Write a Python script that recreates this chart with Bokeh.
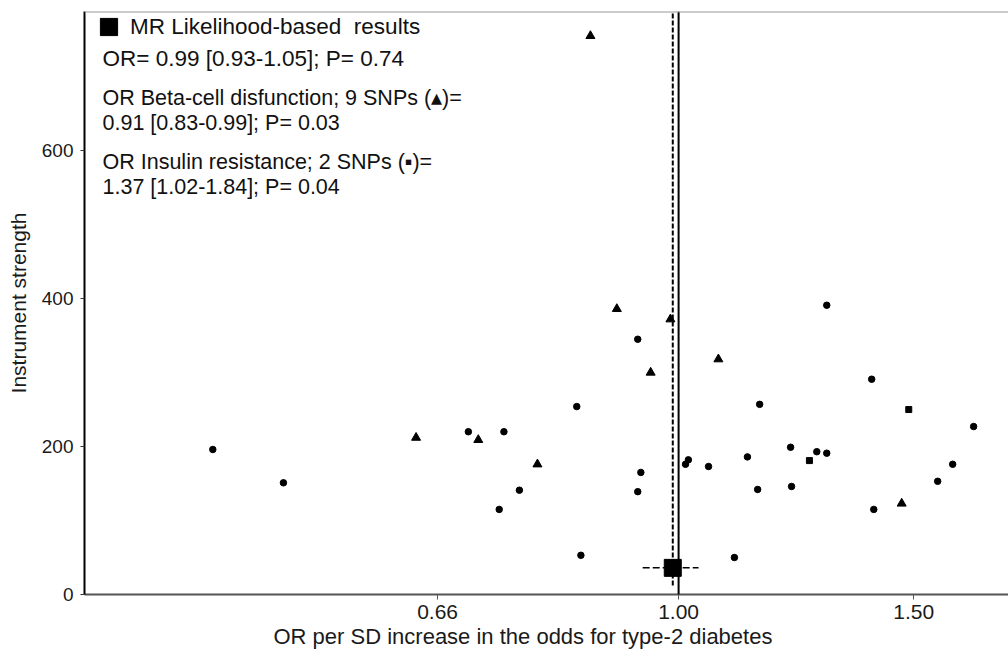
import numpy as np
from bokeh.plotting import figure
from bokeh.models import (Range1d, FixedTicker, CustomJSTickFormatter, Span, Label,
                          Legend, LegendItem, Title)
from bokeh.embed import file_html
from bokeh.resources import INLINE

FONT = "Liberation Sans"

# Beta-cell dysfunction SNPs (triangles)
beta_or = [0.636, 0.708, 0.784, 0.859, 0.899, 0.986, 0.953, 1.071, 1.469]
beta_strength = [212, 209, 176, 755, 386, 372, 300, 318, 123]

# Insulin resistance SNPs (squares)
ins_or = [1.487, 1.253]
ins_strength = [250, 181]

# Other SNPs
other_or = [0.448, 0.506, 0.696, 0.740, 0.760, 0.734, 0.839, 0.845, 0.932, 1.291,
            1.395, 1.663, 1.150, 1.017, 1.012, 1.053, 1.126, 1.213, 1.269, 1.291,
            0.937, 0.932, 1.146, 1.215, 1.604, 1.563, 1.400, 1.101]
other_strength = [196, 151, 220, 220, 141, 115, 254, 53, 345, 391,
                  291, 227, 257, 182, 176, 173, 186, 199, 193, 191,
                  165, 139, 142, 146, 176, 153, 115, 50]

# MR likelihood-based estimate
mr_or = [0.99]
mr_strength = [36]
mr_lo = [0.94]
mr_hi = [1.035]
mr_line_from = [12]
mr_line_to = [788]
null_or = 1.0

x_ticks = [0.66, 1.00, 1.50]
y_ticks = [0, 200, 400, 600]
x_lim = [0.3591, 1.766]
y_lim = [0, 788]

legend_title = "MR Likelihood-based  results"
text_lines = [
    "OR= 0.99 [0.93-1.05]; P= 0.74",
    "OR Beta-cell disfunction; 9 SNPs (\u25b4)=",
    "0.91 [0.83-0.99]; P= 0.03",
    "OR Insulin resistance; 2 SNPs (\u25aa)=",
    "1.37 [1.02-1.84]; P= 0.04",
]
x_label = "OR per SD increase in the odds for type-2 diabetes"
y_label = "Instrument strength"

p = figure(width=1008, height=658, x_axis_type="log",
           x_range=Range1d(*x_lim), y_range=Range1d(*y_lim),
           output_backend="svg", toolbar_location=None,
           min_border_left=84, min_border_right=0, min_border_top=11, min_border_bottom=64)
p.xgrid.visible = False
p.ygrid.visible = False
p.outline_line_color = None
p.background_fill_color = "white"
p.border_fill_color = "white"

xa = p.xaxis[0]
xa.ticker = FixedTicker(ticks=x_ticks)
xa.formatter = CustomJSTickFormatter(code="return tick.toFixed(2);")
xa.major_tick_out = 5
xa.major_tick_in = 0
xa.minor_tick_line_color = None
xa.axis_line_color = "#555555"
xa.axis_line_width = 2
xa.major_tick_line_color = "#555555"
xa.major_label_text_font = FONT
xa.major_label_text_font_size = "21px"
xa.major_label_text_color = "#1a1a1a"
xa.major_label_standoff = 5

ya = p.yaxis[0]
ya.ticker = FixedTicker(ticks=y_ticks)
ya.major_tick_out = 4
ya.major_tick_in = 0
ya.minor_tick_line_color = None
ya.axis_line_color = "black"
ya.axis_line_width = 2
ya.major_tick_line_color = "#333333"
ya.major_label_text_font = FONT
ya.major_label_text_font_size = "19px"
ya.major_label_text_color = "#1a1a1a"
ya.major_label_standoff = 7
ya.axis_label = y_label
ya.axis_label_text_font = FONT
ya.axis_label_text_font_size = "21px"
ya.axis_label_text_font_style = "normal"
ya.axis_label_text_color = "#1a1a1a"
ya.axis_label_standoff = 9

# x-axis title placed below the axis, left-aligned with an offset
p.add_layout(Title(text=x_label, align="left", offset=189, text_font=FONT,
                   text_font_size="22px", text_font_style="normal",
                   text_color="#1a1a1a", standoff=0), "below")

# reference lines
p.add_layout(Span(location=null_or, dimension="height", line_color="black", line_width=2))
p.add_layout(Span(location=y_lim[1], dimension="width", line_color="#999999", line_width=2))
p.segment(x0=mr_or, y0=mr_line_from, x1=mr_or, y1=mr_line_to,
          line_color="black", line_width=2, line_dash="5 2")
p.segment(x0=mr_lo, y0=mr_strength, x1=mr_hi, y1=mr_strength,
          line_color="black", line_width=1.5, line_dash="7 3")

p.scatter(other_or, other_strength, marker="circle", size=6.5, color="black")
p.scatter(beta_or, beta_strength, marker="triangle", size=9, color="black")
p.scatter(ins_or, ins_strength, marker="square", size=6, color="black")
r_mr = p.scatter(mr_or, mr_strength, marker="square", size=17, color="black")

legend = Legend(items=[LegendItem(label=legend_title, renderers=[r_mr])],
                location=(3, 546), padding=0, margin=0, spacing=0,
                glyph_width=43, glyph_height=43, label_standoff=-6,
                label_text_font=FONT, label_text_font_size="22.5px", label_text_color="#111111",
                background_fill_alpha=0, border_line_alpha=0)
p.add_layout(legend)

line_y = [536, 497, 472, 433, 408]
line_size = ["22.5px", "21.5px", "21.5px", "21.5px", "21.5px"]
for t, yy, fs in zip(text_lines, line_y, line_size):
    p.add_layout(Label(x=18, y=yy, x_units="screen", y_units="screen", text=t,
                       text_font=FONT, text_font_size=fs, text_color="#111111",
                       text_baseline="middle", text_align="left"))

open("out.html", "w").write(file_html(p, INLINE))
